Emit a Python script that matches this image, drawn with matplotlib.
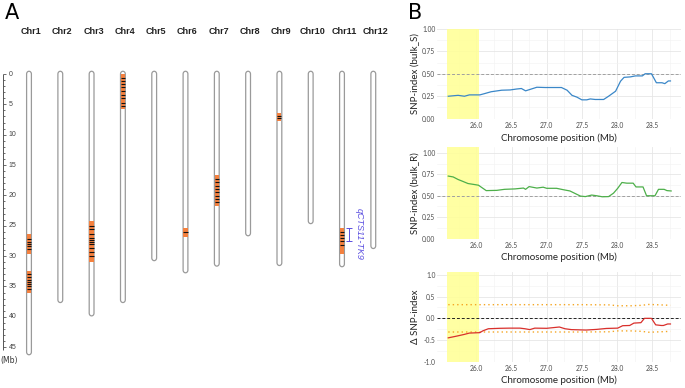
"""
Chromosome map of QTL regions (A) and SNP-index plots for chr11 (B)
"""
import matplotlib
matplotlib.use("Agg")
import matplotlib.pyplot as plt
from matplotlib.patches import Polygon, Rectangle
import numpy as np

# ---- panel A data ----
chrom_names = ["Chr1", "Chr2", "Chr3", "Chr4", "Chr5", "Chr6",
               "Chr7", "Chr8", "Chr9", "Chr10", "Chr11", "Chr12"]
chrom_len = [45.8, 37.2, 39.4, 37.2, 30.3, 32.3, 31.2, 26.2, 31.1, 24.2, 31.3, 28.3]

# QTL bands: chromosome index (1-based), start, end (Mb), black SNP marks inside
qtl_chrom = [1, 1, 3, 4, 6, 7, 9, 11]
qtl_start = [26.4, 32.4, 24.2, 0.0, 25.4, 16.7, 6.5, 25.3]
qtl_end = [29.6, 36.0, 31.0, 5.8, 26.8, 21.7, 7.7, 29.6]
qtl_marks = [
    [27.2, 27.6, 28.0, 28.4, 28.9],
    [33.0, 33.5, 33.9, 34.2, 34.6, 35.0, 35.4],
    [25.0, 25.5, 26.3, 27.0, 27.3, 27.7, 28.0, 28.6, 29.4, 30.0],
    [0.6, 1.1, 1.6, 2.2, 2.8, 3.4, 4.0, 4.7, 5.2],
    [26.0],
    [17.3, 17.8, 18.4, 19.0, 19.5, 20.1, 20.6, 21.1],
    [6.9, 7.2],
    [26.0, 26.5, 27.0, 27.5, 28.2],
]
qtl_label = "qCTS11-TK9"
qtl_label_chrom = 11
qtl_bar = (25.4, 27.5)
qtl_text_mid = 26.4

# ---- panel B data ----
highlight = (25.58, 26.04)

pos_s = [25.6, 25.74, 25.83, 25.9, 26.05, 26.12, 26.21, 26.36, 26.48, 26.57, 26.64,
         26.7, 26.76, 26.86, 26.98, 27.21, 27.29, 27.36, 27.43, 27.5, 27.57, 27.62,
         27.69, 27.81, 27.88, 27.98, 28.05, 28.1, 28.19, 28.26, 28.36, 28.4, 28.49,
         28.56, 28.64, 28.68, 28.73, 28.76]
snp_s = [0.25, 0.26, 0.25, 0.265, 0.265, 0.28, 0.30, 0.317, 0.32, 0.33, 0.336,
         0.31, 0.325, 0.35, 0.347, 0.347, 0.317, 0.26, 0.24, 0.21, 0.21, 0.22,
         0.214, 0.214, 0.25, 0.306, 0.417, 0.46, 0.465, 0.476, 0.476, 0.5, 0.5,
         0.40, 0.40, 0.39, 0.42, 0.42]

pos_r = [25.6, 25.67, 25.74, 25.81, 25.88, 25.98, 26.03, 26.07, 26.14, 26.29, 26.4,
         26.55, 26.67, 26.7, 26.75, 26.86, 26.95, 27.0, 27.14, 27.24, 27.33, 27.4,
         27.48, 27.55, 27.64, 27.71, 27.79, 27.88, 27.95, 28.01, 28.07, 28.14, 28.23,
         28.27, 28.37, 28.42, 28.54, 28.59, 28.67, 28.71, 28.77]
snp_r = [0.73, 0.72, 0.69, 0.667, 0.643, 0.63, 0.623, 0.6, 0.56, 0.563, 0.575,
         0.58, 0.59, 0.575, 0.607, 0.59, 0.6, 0.587, 0.587, 0.57, 0.556, 0.528,
         0.496, 0.49, 0.508, 0.5, 0.488, 0.49, 0.53, 0.587, 0.655, 0.647, 0.647,
         0.603, 0.603, 0.5, 0.5, 0.575, 0.575, 0.56, 0.556]

pos_d = [25.6, 25.72, 25.83, 25.9, 26.05, 26.09, 26.17, 26.33, 26.47, 26.62, 26.69,
         26.76, 26.83, 27.0, 27.18, 27.26, 27.35, 27.56, 27.71, 27.85, 28.01, 28.08,
         28.18, 28.24, 28.34, 28.39, 28.49, 28.55, 28.63, 28.66, 28.72, 28.76]
delta = [-0.45, -0.41, -0.37, -0.34, -0.33, -0.29, -0.24, -0.23, -0.226, -0.226, -0.24,
         -0.26, -0.226, -0.23, -0.2, -0.24, -0.26, -0.27, -0.255, -0.233, -0.226, -0.17,
         -0.165, -0.11, -0.1, 0.0, 0.0, -0.15, -0.165, -0.165, -0.13, -0.13]

thr_pos = [25.6, 26.5, 27.0, 27.5, 27.9, 28.0, 28.2, 28.35, 28.45, 28.55, 28.76]
thr_up = [0.315, 0.315, 0.315, 0.315, 0.31, 0.29, 0.29, 0.30, 0.32, 0.315, 0.30]

W, H = 685, 388
fig = plt.figure(figsize=(W / 100, H / 100), dpi=100)

# ================= panel A =================
y0_px, px_per_mb = 74.0, 6.07
axA = fig.add_axes([0, 0, 400 / W, 1])
axA.set_xlim(0, 400)
axA.set_ylim((H - y0_px) / px_per_mb, -y0_px / px_per_mb)
axA.axis("off")

lib = ["Liberation Sans", "DejaVu Sans"]
half_w = 2.4
cap = 0.45
xs = [29 + i * 31.3 for i in range(len(chrom_names))]

def chrom_outline(cx, length):
    t = np.linspace(0, np.pi, 20)
    top = np.column_stack([cx + half_w * np.cos(t), -cap * np.sin(t)])
    bot = np.column_stack([cx - half_w * np.cos(t), length + cap * np.sin(t)])
    return np.vstack([top, bot])

for name, cx, L in zip(chrom_names, xs, chrom_len):
    axA.add_patch(Polygon(chrom_outline(cx, L), closed=True, facecolor="white",
                          edgecolor="#9a9a9a", lw=0.9, zorder=2))
    axA.text(cx + 2, -7.0, name, ha="center", va="center", fontsize=6.5,
             fontweight="bold", family=lib, color="#222222")

for c, s, e, marks in zip(qtl_chrom, qtl_start, qtl_end, qtl_marks):
    cx = xs[c - 1]
    axA.add_patch(Rectangle((cx - half_w + 0.3, s), 2 * half_w - 0.6, e - s,
                            facecolor="#f4813f", edgecolor="none", zorder=3))
    axA.hlines(marks, cx - half_w + 0.3, cx + half_w - 0.3, color="#111111",
               lw=0.8, zorder=4)

# QTL label on chr11
cx = xs[qtl_label_chrom - 1]
mid = np.mean(qtl_bar)
axA.errorbar([cx + 7], [mid], yerr=[[mid - qtl_bar[0]], [qtl_bar[1] - mid]],
             fmt="none", ecolor="#5b4fe0", elinewidth=0.7, capsize=2,
             capthick=0.7, zorder=4)
axA.text(cx + 17, qtl_text_mid, qtl_label, rotation=-90, ha="center", va="center",
         fontsize=6.5, style="italic", color="#5b4fe0", family=lib)

# ruler
axA.vlines(3.3, 0, 45.5, color="#555555", lw=0.7)
for mb in range(0, 46):
    major = mb % 5 == 0
    axA.hlines(mb, 3.3, 6.5 if major else 5.2, color="#555555", lw=0.6)
    if major:
        axA.text(8.5, mb, str(mb), ha="left", va="center", fontsize=5,
                 family=lib, color="#444444")
axA.text(9.5, (360 - y0_px) / px_per_mb, "(Mb)", ha="center", va="center",
         fontsize=5.5, color="#333333")

fig.text(5 / W, 1 - 13 / H, "A", fontsize=15, ha="left", va="center")
fig.text(408 / W, 1 - 13 / H, "B", fontsize=15, ha="left", va="center")

# ================= panel B =================
font_b = ["Lato", "DejaVu Sans"]
xlim = (25.44, 28.91)
left_px, right_px = 437, 681

def make_axes(top_px, bottom_px):
    ax = fig.add_axes([left_px / W, 1 - bottom_px / H,
                       (right_px - left_px) / W, (bottom_px - top_px) / H])
    ax.height_px = bottom_px - top_px
    return ax

def style(ax, ylabel, yticks, yfmt):
    ax.set_xlim(*xlim)
    for sp in ax.spines.values():
        sp.set_visible(False)
    xt = np.arange(26.0, 28.51, 0.5)
    ax.set_xticks(xt)
    ax.set_xticklabels([f"{v:.1f}" for v in xt])
    ax.set_xticks(np.arange(25.75, 28.8, 0.5), minor=True)
    ax.set_yticks(yticks)
    ax.set_yticklabels([yfmt.format(v) for v in yticks])
    ax.set_yticks((np.array(yticks[:-1]) + np.array(yticks[1:])) / 2, minor=True)
    ax.tick_params(which="both", length=0, labelsize=4.8, labelcolor="#4d4d4d")
    ax.tick_params(axis="x", pad=2.5)
    ax.tick_params(axis="y", pad=1.2)
    for lab in ax.get_xticklabels() + ax.get_yticklabels():
        lab.set_family(font_b)
    ax.grid(which="major", color="#e6e6e6", lw=0.6)
    ax.grid(which="minor", color="#f2f2f2", lw=0.4)
    ax.set_axisbelow(True)
    ax.set_xlabel("Chromosome position (Mb)", fontsize=7, family=font_b,
                  color="#222222", va="center")
    ax.xaxis.set_label_coords(0.5, -19.0 / ax.height_px)
    ax.set_ylabel(ylabel, fontsize=7, family=font_b, color="#222222", va="center")
    ax.yaxis.set_label_coords((415 - left_px) / (right_px - left_px), 0.5)

# bulk S
ax1 = make_axes(28.5, 119)
ax1.set_ylim(-0.003, 1.003)
ax1.axvspan(*highlight, color="#ffff99", alpha=0.9, lw=0, zorder=1)
ax1.axhline(0.5, color="#a0a0a0", lw=0.7, ls=(0, (3, 2)), zorder=2)
ax1.plot(pos_s, snp_s, color="#3a87c8", lw=0.9, zorder=3)
style(ax1, "SNP-index (bulk_S)", [0, 0.25, 0.5, 0.75, 1.0], "{:.2f}")

# bulk R
ax2 = make_axes(147, 238.5)
ax2.set_ylim(0, 1.07)
ax2.axvspan(*highlight, color="#ffff99", alpha=0.9, lw=0, zorder=1)
ax2.axhline(0.5, color="#a0a0a0", lw=0.7, ls=(0, (3, 2)), zorder=2)
ax2.plot(pos_r, snp_r, color="#4daf4a", lw=0.9, zorder=3)
style(ax2, "SNP-index (bulk_R)", [0, 0.25, 0.5, 0.75, 1.0], "{:.2f}")

# delta
ax3 = make_axes(271.5, 361.7)
ax3.set_ylim(-1.0, 1.08)
ax3.axvspan(*highlight, color="#ffff99", alpha=0.9, lw=0, zorder=1)
ax3.axhline(0, color="#222222", lw=0.7, ls=(0, (3, 2)), zorder=2)
ax3.plot(thr_pos, thr_up, color="#f5a623", lw=1.0, ls=(0, (1, 2.2)), zorder=2)
ax3.plot(thr_pos, [-v for v in thr_up], color="#f5a623", lw=1.0, ls=(0, (1, 2.2)), zorder=2)
ax3.plot(pos_d, delta, color="#d9302c", lw=0.9, zorder=3)
style(ax3, "\u0394 SNP-index", [-1.0, -0.5, 0.0, 0.5, 1.0], "{:.1f}")

fig.savefig("out.png", dpi=100)
